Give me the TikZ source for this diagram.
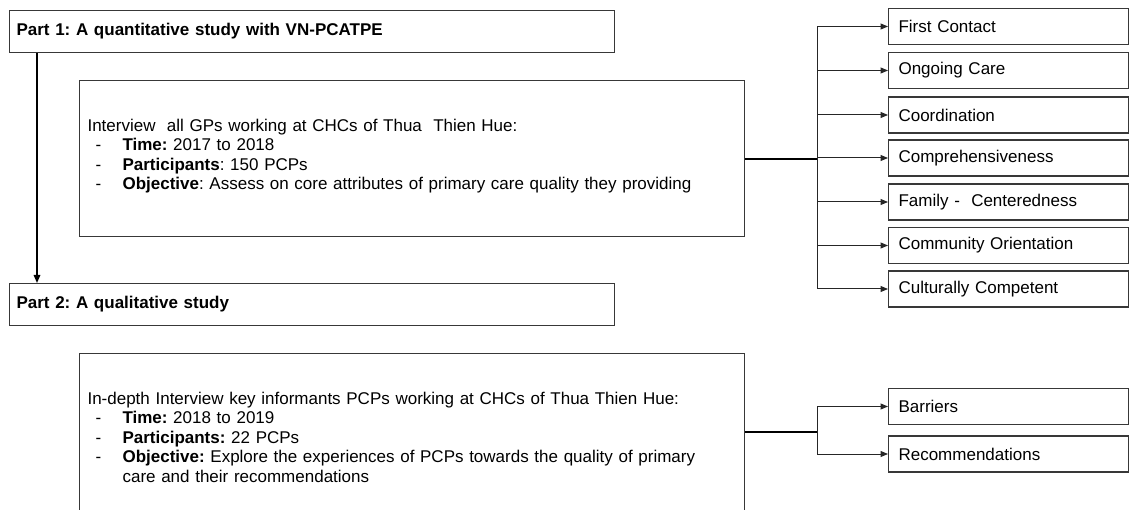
\documentclass[tikz,border=0pt]{standalone}
\usepackage{fontspec}
\setmainfont{Liberation Sans}
\usetikzlibrary{arrows.meta}
\newcommand{\itemdash}{\makebox[35pt][l]{\hspace{8pt}-}}
\frenchspacing
\begin{document}
\begin{tikzpicture}[x=1pt,y=-1pt,
  txt/.style={font=\fontsize{17}{19.5}\selectfont},
  boxline/.style={draw=black!78, line width=1.1pt, fill=white},
  titlebox/.style={boxline, txt, anchor=north west, align=left, inner xsep=7pt, inner ysep=0pt, minimum height=42pt, text width=591pt},
  bigbox/.style={boxline, txt, anchor=north west, align=left, inner xsep=8pt, inner ysep=0pt, text width=649pt},
  rbox/.style={boxline, txt, anchor=west, align=left, inner xsep=10pt, inner ysep=0pt, minimum height=36pt, text width=220pt},
  trunk/.style={draw=black, line width=1.5pt},
  bus/.style={draw=black!85, line width=1pt},
  arr/.style={draw=black!85, line width=1pt, -{Triangle[length=7.5pt,width=6pt]}},
  downarr/.style={draw=black, line width=1.5pt, -{Triangle[length=8pt,width=6.5pt]}}
]
\useasboundingbox (0,0) rectangle (1129,510);
\fill[white] (0,0) rectangle (1129,510);

% Part 1
\node[titlebox] (p1) at (9,10) {\textbf{Part 1: A quantitative study with VN-PCATPE}};
\node[bigbox, minimum height=156pt] (b1) at (79,80) {%
Interview\ \ all GPs working at CHCs of Thua\ \ Thien Hue:\\
\itemdash\textbf{Time:} 2017 to 2018\\
\itemdash\textbf{Participants}: 150 PCPs\\
\itemdash\textbf{Objective}: Assess on core attributes of primary care quality they providing\rule[-8pt]{0pt}{0pt}};

\node[rbox] (r1) at (888,26.5) {First Contact};
\node[rbox] (r2) at (888,70.5) {Ongoing Care};
\node[rbox] (r3) at (888,115) {Coordination};
\node[rbox] (r4) at (888,158) {Comprehensiveness};
\node[rbox] (r5) at (888,202) {Family -\ \ Centeredness};
\node[rbox] (r6) at (888,245.5) {Community Orientation};
\node[rbox] (r7) at (888,289) {Culturally Competent};

\coordinate (j1) at (817,159);
\draw[trunk] (b1.east |- j1) -- (j1);
\draw[bus] (j1 |- r1.west) -- (j1 |- r7.west);
\foreach \r in {r1,r2,r3,r4,r5,r6,r7}
  \draw[arr] (j1 |- \r.west) -- (\r.west);

% Part 2
\node[titlebox] (p2) at (9,283) {\textbf{Part 2: A qualitative study}};
\draw[downarr] ([xshift=28pt]p1.south west) -- ([xshift=28pt]p2.north west);

\node[bigbox, minimum height=167pt] (b2) at (79,353) {%
In-depth Interview key informants PCPs working at CHCs of Thua Thien Hue:\\
\itemdash\textbf{Time:} 2018 to 2019\\
\itemdash\textbf{Participants:} 22 PCPs\\
\itemdash\textbf{Objective:} Explore the experiences of PCPs towards the quality of primary\\
\hspace*{35pt}care and their recommendations};

\node[rbox] (s1) at (888,406.5) {Barriers};
\node[rbox] (s2) at (888,454) {Recommendations};

\coordinate (j2) at (817,432);
\draw[trunk] (b2.east |- j2) -- (j2);
\draw[bus] (j2 |- s1.west) -- (j2 |- s2.west);
\foreach \r in {s1,s2}
  \draw[arr] (j2 |- \r.west) -- (\r.west);
\end{tikzpicture}
\end{document}
